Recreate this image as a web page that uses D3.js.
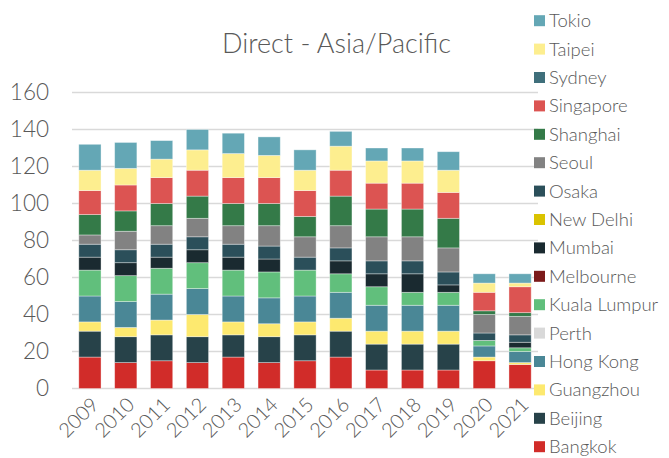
<!DOCTYPE html>
<html>
<head>
<meta charset="utf-8">
<script src="https://cdn.jsdelivr.net/npm/d3@7/dist/d3.min.js"></script>
<style>
  html, body { margin: 0; padding: 0; background: #fff; }
  svg { display: block; font-family: Lato, "Open Sans", sans-serif; font-weight: 300; }
</style>
</head>
<body>
<svg id="chart" width="669" height="458"></svg>
<script>
const years = ["2009","2010","2011","2012","2013","2014","2015","2016","2017","2018","2019","2020","2021"];
const yTicks = [0, 20, 40, 60, 80, 100, 120, 140, 160];

// Stack order bottom -> top
const cities = ["Bangkok","Beijing","Guangzhou","Hong Kong","Perth","Kuala Lumpur","Melbourne","Mumbai","New Delhi","Osaka","Seoul","Shanghai","Singapore","Sydney","Taipei","Tokio"];
const colors = ["#d12c29","#274249","#fde96f","#4a8796","#d9d9d9","#61bf7c","#7b1a1a","#1a2a30","#dac300","#2b4f5a","#828282","#347a48","#dc5452","#3f6f7b","#fdee8f","#64a7b5"];

const bangkok     = [17,14,15,14,17,14,15,17,10,10,10,15,13];
const beijing     = [14,14,14,14,12,14,14,14,14,14,14,0,0];
const guangzhou   = [5,5,8,12,7,7,7,7,7,7,7,2,1];
const hongKong    = [14,14,14,14,14,14,14,14,14,14,14,6,6];
const perth       = [0,0,0,0,0,0,0,0,0,0,0,0,0];
const kualaLumpur = [14,14,14,14,14,14,14,10,10,7,7,3,2];
const melbourne   = [0,0,0,0,0,0,0,0,0,0,0,0,0];
const mumbai      = [7,7,6,7,7,7,0,7,7,10,4,0,3];
const newDelhi    = [0,0,0,0,0,0,0,0,0,0,0,0,0];
const osaka       = [7,7,7,7,7,7,7,7,7,7,7,4,4];
const seoul       = [5,10,10,10,10,11,11,12,13,13,13,10,10];
const shanghai    = [11,11,12,12,12,12,11,16,15,15,16,2,2];
const singapore   = [13,14,14,14,14,14,14,14,14,14,14,10,14];
const sydney      = [0,0,0,0,0,0,0,0,0,0,0,0,0];
const taipei      = [11,9,10,11,13,12,11,13,12,12,12,5,2];
const tokio       = [14,14,10,11,11,10,11,8,7,7,10,5,5];

const series = [bangkok, beijing, guangzhou, hongKong, perth, kualaLumpur, melbourne, mumbai, newDelhi, osaka, seoul, shanghai, singapore, sydney, taipei, tokio];

const rows = years.map((y, i) => {
  const r = { year: y };
  cities.forEach((c, k) => { r[c] = series[k][i]; });
  return r;
});

const svg = d3.select("#chart");
const textColor = "#595959";

const x = d3.scaleBand().domain(years).range([72, 538]).paddingInner(0.38).paddingOuter(0.19);
const y = d3.scaleLinear().domain([0, 160]).range([388.5, 92.5]);
const color = d3.scaleOrdinal().domain(cities).range(colors);

// Title
svg.append("text")
  .attr("x", 336.5).attr("y", 53)
  .attr("text-anchor", "middle")
  .attr("font-size", 27)
  .attr("fill", textColor)
  .text("Direct - Asia/Pacific");

// Gridlines
svg.append("g").selectAll("line").data(yTicks).join("line")
  .attr("x1", 72).attr("x2", 538)
  .attr("y1", d => y(d)).attr("y2", d => y(d))
  .attr("stroke", "#d9d9d9").attr("stroke-width", 1.6);

// Y axis labels
const yAxis = d3.axisLeft(y).tickValues(yTicks).tickSize(0).tickPadding(0);
const gy = svg.append("g").attr("transform", "translate(49,0)").call(yAxis);
gy.select(".domain").remove();
gy.selectAll("text").attr("font-size", 22.5).attr("fill", textColor).attr("font-family", "Lato, sans-serif").attr("font-weight", 300);

// Bars
const stack = d3.stack().keys(cities)(rows);
svg.append("g").selectAll("g").data(stack).join("g")
  .attr("fill", d => color(d.key))
  .selectAll("rect").data(d => d.filter(s => s[1] - s[0] > 0)).join("rect")
  .attr("x", d => x(d.data.year))
  .attr("width", x.bandwidth())
  .attr("y", d => y(d[1]))
  .attr("height", d => y(d[0]) - y(d[1]))
  .attr("stroke", "rgba(255,255,255,0.45)")
  .attr("stroke-width", 0.8);

// X axis labels
const xAxis = d3.axisBottom(x).tickSize(0).tickPadding(0);
const gx = svg.append("g").call(xAxis);
gx.select(".domain").remove();
gx.selectAll(".tick text")
  .attr("font-size", 20).attr("fill", textColor).attr("font-family", "Lato, sans-serif").attr("font-weight", 300)
  .attr("text-anchor", "end")
  .attr("y", 0).attr("dy", "0.35em")
  .attr("transform", "translate(5,401) rotate(-45)");

// Legend
const legendOrder = cities.slice().reverse();
const lg = svg.append("g").selectAll("g").data(legendOrder).join("g")
  .attr("transform", (d, i) => `translate(534, ${20.7 + i * 28.4})`);
lg.append("rect").attr("x", 0).attr("y", -5.5).attr("width", 11).attr("height", 11)
  .attr("fill", d => color(d));
lg.append("text").attr("x", 15).attr("y", 0).attr("dy", "0.35em")
  .attr("font-size", 18.5).attr("fill", textColor)
  .text(d => d);
</script>
</body>
</html>
